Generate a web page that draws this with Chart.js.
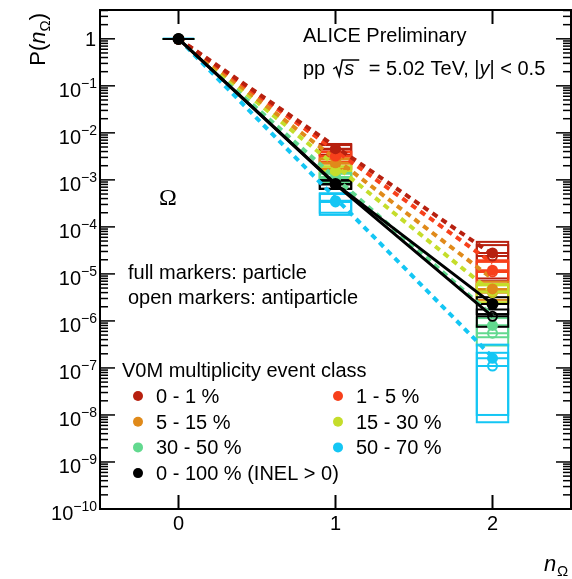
<!DOCTYPE html>
<html>
<head>
<meta charset="utf-8">
<script src="https://cdn.jsdelivr.net/npm/chart.js@4"></script>
<style>
  html, body { margin: 0; padding: 0; background: #fff; }
  canvas { display: block; }
</style>
</head>
<body>
<canvas id="chart" width="572" height="579"></canvas>
<script>
// DATA
const nValues = [0, 1, 2];
const xTickLabels = ["0", "1", "2"];
const yExponents = [0, -1, -2, -3, -4, -5, -6, -7, -8, -9, -10];
const classLabels = ["0 - 1 %", "1 - 5 %", "5 - 15 %", "15 - 30 %", "30 - 50 %", "50 - 70 %", "0 - 100 % (INEL > 0)"];
const classColors = ["#b7200f", "#f7401b", "#e08a1a", "#c5dd2b", "#62d98f", "#14c6f4", "#000000"];

// P(n) particle (full markers), one row per class, n = 0, 1, 2
const particleP = [
  [0.99, 4.6e-3, 2.8e-5],
  [0.99, 3.2e-3, 1.2e-5],
  [0.99, 2.3e-3, 4.8e-6],
  [0.995, 1.55e-3, 4.3e-6],
  [0.995, 1.15e-3, 8.0e-7],
  [0.998, 3.6e-4, 1.6e-7],
  [0.996, 8.2e-4, 2.3e-6]
];
// P(n) antiparticle (open markers)
const antiP = [
  [0.99, 4.4e-3, 2.4e-5],
  [0.99, 3.1e-3, 1.1e-5],
  [0.99, 2.2e-3, 4.2e-6],
  [0.995, 1.5e-3, 4.0e-6],
  [0.995, 1.1e-3, 5.5e-7],
  [0.998, 3.4e-4, 1.1e-7],
  [0.996, 8.0e-4, 1.25e-6]
];
// systematic uncertainties (boxes)
const particleSys = [
  [0, 1.2e-3, 2.0e-5],
  [0, 0.8e-3, 0.75e-5],
  [0, 0.55e-3, 2.0e-6],
  [0, 0.4e-3, 1.8e-6],
  [0, 0.25e-3, 3.5e-7],
  [0, 1.6e-4, 1.53e-7],
  [0, 1.7e-4, 0.9e-6]
];
const antiSys = [
  [0, 1.1e-3, 1.7e-5],
  [0, 0.75e-3, 0.7e-5],
  [0, 0.5e-3, 1.8e-6],
  [0, 0.4e-3, 1.7e-6],
  [0, 0.25e-3, 2.5e-7],
  [0, 1.6e-4, 1.0e-7],
  [0, 1.6e-4, 0.5e-6]
];
// dashed curves (one per class, no curve for 0 - 100 %)
const modelP = [
  [1, 5.1e-3, 2.6e-5],
  [1, 4.2e-3, 1.7e-5],
  [1, 2.8e-3, 7.9e-6],
  [1, 2.0e-3, 4.0e-6],
  [1, 1.1e-3, 1.3e-6],
  [1, 4.1e-4, 1.7e-7]
];
const xErr = 0.1;

const SANS = "'Liberation Sans', Arial, Helvetica, sans-serif";
const F20 = "20px " + SANS;
const I20 = "italic 20px " + SANS;

function pts(row) {
  return nValues.map((n, j) => ({ x: n, y: row[j] }));
}

// DATASETS
const datasets = [];
modelP.forEach((row, i) => {
  datasets.push({
    data: pts(row), showLine: true, borderColor: classColors[i],
    borderWidth: 4, borderDash: [6, 5], pointRadius: 0, order: 30
  });
});
classColors.forEach((c, i) => {
  const black = i === classColors.length - 1;
  datasets.push({
    data: pts(particleP[i]), showLine: black, borderColor: c, borderWidth: 3,
    pointRadius: black ? 6 : 5.5, pointBackgroundColor: c, pointBorderColor: c,
    pointBorderWidth: 0, order: black ? 1 : 10
  });
  datasets.push({
    data: pts(antiP[i]), showLine: black, borderColor: c, borderWidth: 3,
    pointRadius: 4.5, pointBackgroundColor: "rgba(0,0,0,0)", pointBorderColor: c,
    pointBorderWidth: 2, order: black ? 2 : 11
  });
});

function line(ctx, x1, y1, x2, y2) {
  ctx.beginPath(); ctx.moveTo(x1, y1); ctx.lineTo(x2, y2); ctx.stroke();
}

// BOXES + X ERROR BARS
const boxes = {
  id: "boxes",
  beforeDatasetsDraw(chart) {
    const { ctx, chartArea: a, scales: { x, y } } = chart;
    ctx.save();
    ctx.beginPath(); ctx.rect(a.left, a.top, a.right - a.left, a.bottom - a.top); ctx.clip();
    ctx.lineWidth = 2;
    classColors.forEach((c, i) => {
      ctx.strokeStyle = c;
      [[particleP, particleSys], [antiP, antiSys]].forEach(([vals, sys]) => {
        nValues.forEach((n, j) => {
          const v = vals[i][j], e = sys[i][j];
          const x1 = x.getPixelForValue(n - xErr), x2 = x.getPixelForValue(n + xErr);
          if (e > 0) {
            const yt = y.getPixelForValue(v + e), yb = y.getPixelForValue(v - e);
            ctx.strokeRect(x1, yt, x2 - x1, yb - yt);
          }
          const yv = y.getPixelForValue(v);
          line(ctx, x1, yv, x2, yv);
        });
      });
    });
    ctx.restore();
  }
};

// FRAME, TICKS, TEXTS
const frame = {
  id: "frame",
  afterDraw(chart) {
    const { ctx, chartArea: a, scales: { x, y } } = chart;
    ctx.save();
    ctx.strokeStyle = "#000";
    ctx.fillStyle = "#000";
    ctx.lineWidth = 2;
    ctx.strokeRect(a.left, a.top, a.right - a.left, a.bottom - a.top);

    // x ticks
    ctx.textBaseline = "alphabetic";
    nValues.forEach((n, j) => {
      const px = x.getPixelForValue(n);
      line(ctx, px, a.bottom, px, a.bottom - 14);
      line(ctx, px, a.top, px, a.top + 14);
      ctx.font = F20; ctx.textAlign = "center";
      ctx.fillText(xTickLabels[j], px, a.bottom + 21);
    });

    // y ticks
    ctx.lineWidth = 1.5;
    yExponents.forEach(e => {
      for (let k = 1; k <= 9; k++) {
        const v = k * Math.pow(10, e);
        if (v > y.max) break;
        const py = y.getPixelForValue(v);
        const len = k === 1 ? 15 : 8;
        line(ctx, a.left, py, a.left + len, py);
        line(ctx, a.right, py, a.right - len, py);
      }
      const py = y.getPixelForValue(Math.pow(10, e));
      ctx.textAlign = "right";
      if (e === 0) {
        ctx.font = F20; ctx.fillText("1", a.left - 4, py + 7);
      } else {
        ctx.font = "14px " + SANS;
        const ex = "\u2212" + (-e);
        ctx.fillText(ex, a.left - 3, py + 2);
        const w = ctx.measureText(ex).width;
        ctx.font = F20; ctx.fillText("10", a.left - 3 - w, py + 11);
      }
    });

    // axis titles
    ctx.textAlign = "left";
    ctx.save();
    ctx.translate(45, 13);
    ctx.rotate(-Math.PI / 2);
    const F22 = "22px " + SANS, I22 = "italic 22px " + SANS, S15 = "15px " + SANS;
    const parts = [["P(", F22, 0], ["n", I22, 0], ["\u03a9", S15, 5], [")", F22, 0]];
    let tot = 0;
    parts.forEach(p => { ctx.font = p[1]; tot += ctx.measureText(p[0]).width; });
    let cx = -tot;
    parts.forEach(p => { ctx.font = p[1]; ctx.fillText(p[0], cx, p[2]); cx += ctx.measureText(p[0]).width; });
    ctx.restore();

    ctx.font = I22; ctx.fillText("n", 544, 571);
    ctx.font = S15; ctx.fillText("\u03a9", 557, 576);

    // header
    ctx.font = F20;
    ctx.fillText("ALICE Preliminary", 303, 42);
    let tx = 303;
    const base = 75;
    ctx.fillText("pp", tx, base); tx += ctx.measureText("pp").width + 8;
    ctx.lineWidth = 1.5;
    ctx.beginPath();
    ctx.moveTo(tx, base - 6); ctx.lineTo(tx + 3, base - 8); ctx.lineTo(tx + 6, base + 1);
    ctx.lineTo(tx + 9, base - 15); ctx.lineTo(tx + 26, base - 15);
    ctx.stroke();
    ctx.font = I20; ctx.fillText("s", tx + 11, base); tx += 30;
    ctx.font = F20;
    const seg = " = 5.02 TeV, |";
    ctx.fillText(seg, tx, base); tx += ctx.measureText(seg).width;
    ctx.font = I20; ctx.fillText("y", tx, base); tx += ctx.measureText("y").width;
    ctx.font = F20; ctx.fillText("| < 0.5", tx, base);

    // labels in plot
    ctx.font = "24px 'Liberation Serif', 'Times New Roman', serif";
    ctx.fillText("\u03a9", 159, 205);
    ctx.font = F20;
    ctx.fillText("full markers: particle", 128, 279);
    ctx.fillText("open markers: antiparticle", 128, 304);
    ctx.fillText("V0M multiplicity event class", 122, 377);

    // legend
    classLabels.forEach((lab, i) => {
      const col = i === 6 ? 0 : i % 2;
      const row = i === 6 ? 3 : Math.floor(i / 2);
      const mx = col === 0 ? 138 : 338;
      const my = 396 + row * 25.7;
      ctx.fillStyle = classColors[i];
      ctx.beginPath(); ctx.arc(mx, my, 5, 0, Math.PI * 2); ctx.fill();
      ctx.fillStyle = "#000";
      ctx.font = F20;
      ctx.fillText(lab, mx + 18, my + 7);
    });
    ctx.restore();
  }
};

new Chart(document.getElementById("chart"), {
  type: "scatter",
  data: { datasets },
  options: {
    responsive: false,
    animation: false,
    layout: { autoPadding: false, padding: { left: 100, right: 1, top: 10, bottom: 70 } },
    scales: {
      x: { type: "linear", min: -0.5, max: 2.5, display: false },
      y: { type: "logarithmic", min: 1e-10, max: 4.1, display: false }
    },
    plugins: { legend: { display: false }, tooltip: { enabled: false } }
  },
  plugins: [boxes, frame]
});
</script>
</body>
</html>
